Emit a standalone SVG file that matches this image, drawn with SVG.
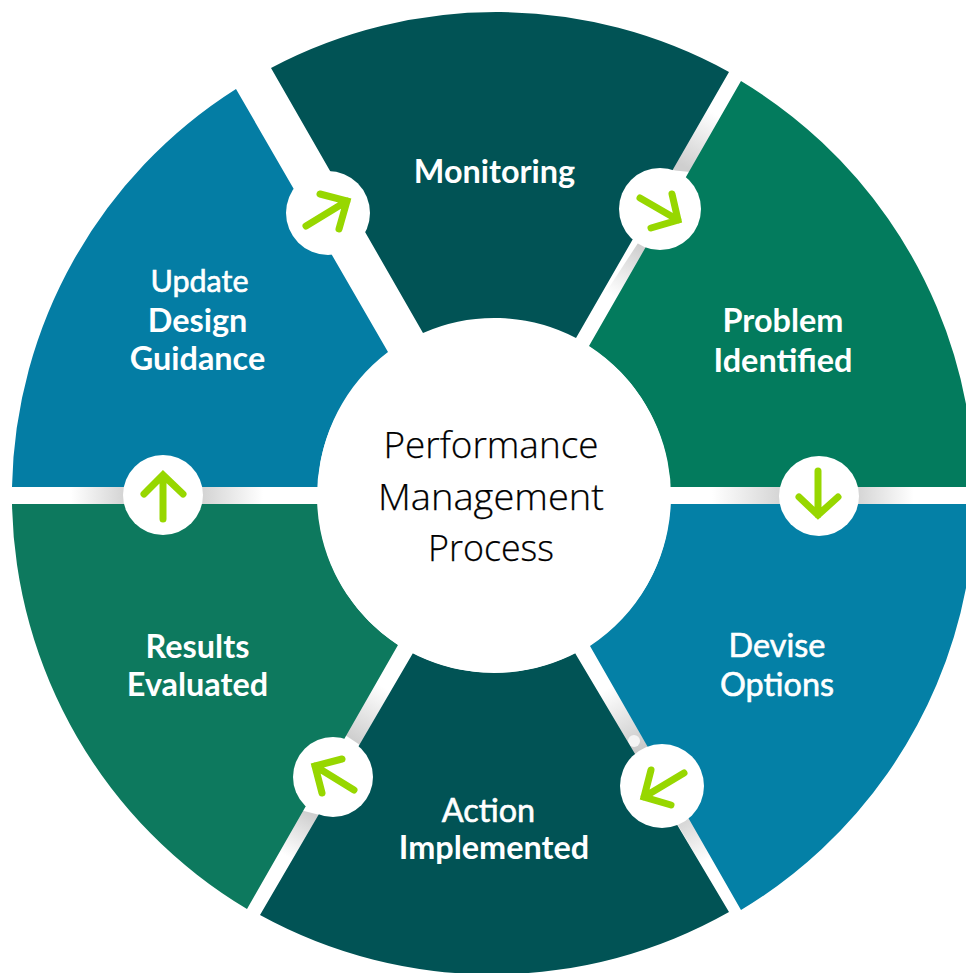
<svg xmlns="http://www.w3.org/2000/svg" width="966" height="973" viewBox="0 0 966 973">
<style>
.lb{font-family:Lato,"Liberation Sans",sans-serif;font-size:32.4px;font-weight:700;fill:#fff;text-anchor:middle}
.md{font-weight:400;stroke:#fff;stroke-width:0.6px}
.ct{font-family:"Open Sans","Noto Sans",sans-serif;font-size:36px;font-weight:300;fill:#000;stroke:#000;stroke-width:0.25px;text-anchor:middle}
.ar{fill:none;stroke:#97d700;stroke-width:7;stroke-linecap:round;stroke-linejoin:miter}
.bd{fill:#fff}
</style>
<defs>
<linearGradient id="gR1" gradientUnits="userSpaceOnUse" x1="670" y1="0" x2="790" y2="0"><stop offset="0.35" stop-color="#fff"/><stop offset="1" stop-color="#cfcfcf"/></linearGradient>
<linearGradient id="gR2" gradientUnits="userSpaceOnUse" x1="850" y1="0" x2="966" y2="0"><stop offset="0" stop-color="#cfcfcf"/><stop offset="0.55" stop-color="#fff"/></linearGradient>
<linearGradient id="gL1" gradientUnits="userSpaceOnUse" x1="12" y1="0" x2="130" y2="0"><stop offset="0.5" stop-color="#fff"/><stop offset="1" stop-color="#cfcfcf"/></linearGradient>
<linearGradient id="gL2" gradientUnits="userSpaceOnUse" x1="196" y1="0" x2="318" y2="0"><stop offset="0" stop-color="#cfcfcf"/><stop offset="0.55" stop-color="#fff"/></linearGradient>
<linearGradient id="gTR1" gradientUnits="userSpaceOnUse" x1="682" y1="165" x2="712" y2="112"><stop offset="0" stop-color="#cfcfcf"/><stop offset="1" stop-color="#fff"/></linearGradient>
<linearGradient id="gTR2" gradientUnits="userSpaceOnUse" x1="638" y1="245" x2="610" y2="295"><stop offset="0" stop-color="#cfcfcf"/><stop offset="1" stop-color="#fff"/></linearGradient>
<linearGradient id="gBR1" gradientUnits="userSpaceOnUse" x1="640" y1="750" x2="605" y2="690"><stop offset="0" stop-color="#c8c8c8"/><stop offset="1" stop-color="#fff"/></linearGradient>
<linearGradient id="gBR2" gradientUnits="userSpaceOnUse" x1="682" y1="822" x2="705" y2="862"><stop offset="0" stop-color="#d6d6d6"/><stop offset="1" stop-color="#fff"/></linearGradient>
<linearGradient id="gBL1" gradientUnits="userSpaceOnUse" x1="355" y1="740" x2="385" y2="688"><stop offset="0" stop-color="#cfcfcf"/><stop offset="1" stop-color="#fff"/></linearGradient>
<linearGradient id="gBL2" gradientUnits="userSpaceOnUse" x1="312" y1="815" x2="288" y2="857"><stop offset="0" stop-color="#cfcfcf"/><stop offset="1" stop-color="#fff"/></linearGradient>
</defs>
<rect width="966" height="973" fill="#fff"/>
<g id="connectors">
<rect x="670" y="487" width="120" height="17" fill="url(#gR1)"/>
<rect x="850" y="487" width="116" height="17" fill="url(#gR2)"/>
<rect x="12" y="487" width="120" height="17" fill="url(#gL1)"/>
<rect x="196" y="487" width="122" height="17" fill="url(#gL2)"/>
<polygon points="670,170 729,72 741,81 690,172" fill="url(#gTR1)"/>
<polygon points="640,240 655,250 589,346 576,338" fill="url(#gTR2)"/>
<polygon points="575,653 590,646 650,750 635,760" fill="url(#gBR1)"/>
<polygon points="672,815 690,815 741,910 729,912" fill="url(#gBR2)"/>
<polygon points="398,645 413,653 360,745 345,735" fill="url(#gBL1)"/>
<polygon points="300,810 320,815 260,915 247,909" fill="url(#gBL2)"/>
<circle cx="634" cy="741" r="6" fill="#f4f4f4"/>
</g>
<g id="seg-monitoring">
<path d="M271,68A482,482 0 0 1 729,72L576,338A177,177 0 0 0 423,333Z" fill="#015355"/>
<text class="lb" x="494.500" y="183">Monitoring</text>
</g>
<g id="seg-problem">
<path d="M741,81A482,482 0 0 1 966,404L966,487L670,487A177,177 0 0 0 589,346Z" fill="#037b5d"/>
<text class="lb" x="783" y="332">Problem</text>
<text class="lb" x="783" y="372">Identified</text>
</g>
<g id="seg-devise">
<path d="M670,504L966,504L966,588A482,482 0 0 1 741,910L590,646A177,177 0 0 0 670,504Z" fill="#0480a6"/>
<text class="lb md" x="777" y="657">Devise</text>
<text class="lb md" x="777" y="696">Options</text>
</g>
<g id="seg-action">
<path d="M575,653L729,912A482,482 0 0 1 260,915L413,653A177,177 0 0 0 575,653Z" fill="#015355"/>
<text class="lb md" x="488.500" y="822">Action</text>
<text class="lb" x="494" y="859">Implemented</text>
</g>
<g id="seg-results">
<path d="M12,504L318,504A177,177 0 0 0 398,645L247,909A482,482 0 0 1 12,504Z" fill="#0d795e"/>
<text class="lb" x="197.500" y="658">Results</text>
<text class="lb" x="197.500" y="696">Evaluated</text>
</g>
<g id="seg-update">
<path d="M12,487A482,482 0 0 1 236,89L388,352A177,177 0 0 0 318,487Z" fill="#047da4"/>
<text class="lb md" style="font-size:30.500px" x="199.500" y="292">Update</text>
<text class="lb" x="197.500" y="332">Design</text>
<text class="lb" x="197.500" y="370">Guidance</text>
</g>
<g id="center">
<circle cx="494" cy="496" r="177" fill="#fff"/>
<text class="ct" x="491" y="458" textLength="215" lengthAdjust="spacingAndGlyphs">Performance</text>
<text class="ct" x="491" y="510" textLength="226" lengthAdjust="spacingAndGlyphs">Management</text>
<text class="ct" x="491" y="561" textLength="126" lengthAdjust="spacingAndGlyphs">Process</text>
</g>
<g id="arrow-1"><circle class="bd" cx="328" cy="213" r="42"/><path class="ar" d="M306,226L347,201M320,194L347,201L339,229"/></g>
<g id="arrow-2"><circle class="bd" cx="660" cy="209" r="41"/><path class="ar" d="M640,198L678,220M672,194L678,220L651,228"/></g>
<g id="arrow-3"><circle class="bd" cx="819" cy="496" r="40"/><path class="ar" d="M818,471L818,515M799,497L818,515L838,497"/></g>
<g id="arrow-4"><circle class="bd" cx="662" cy="786" r="42"/><path class="ar" d="M684,773L644,797M651,770L644,797L671,805"/></g>
<g id="arrow-5"><circle class="bd" cx="333" cy="777" r="40"/><path class="ar" d="M354,790L315,766M342,759L315,766L322,793"/></g>
<g id="arrow-6"><circle class="bd" cx="163" cy="495" r="40"/><path class="ar" d="M163,519L163,475M144,494L163,475L183,494"/></g>
</svg>
